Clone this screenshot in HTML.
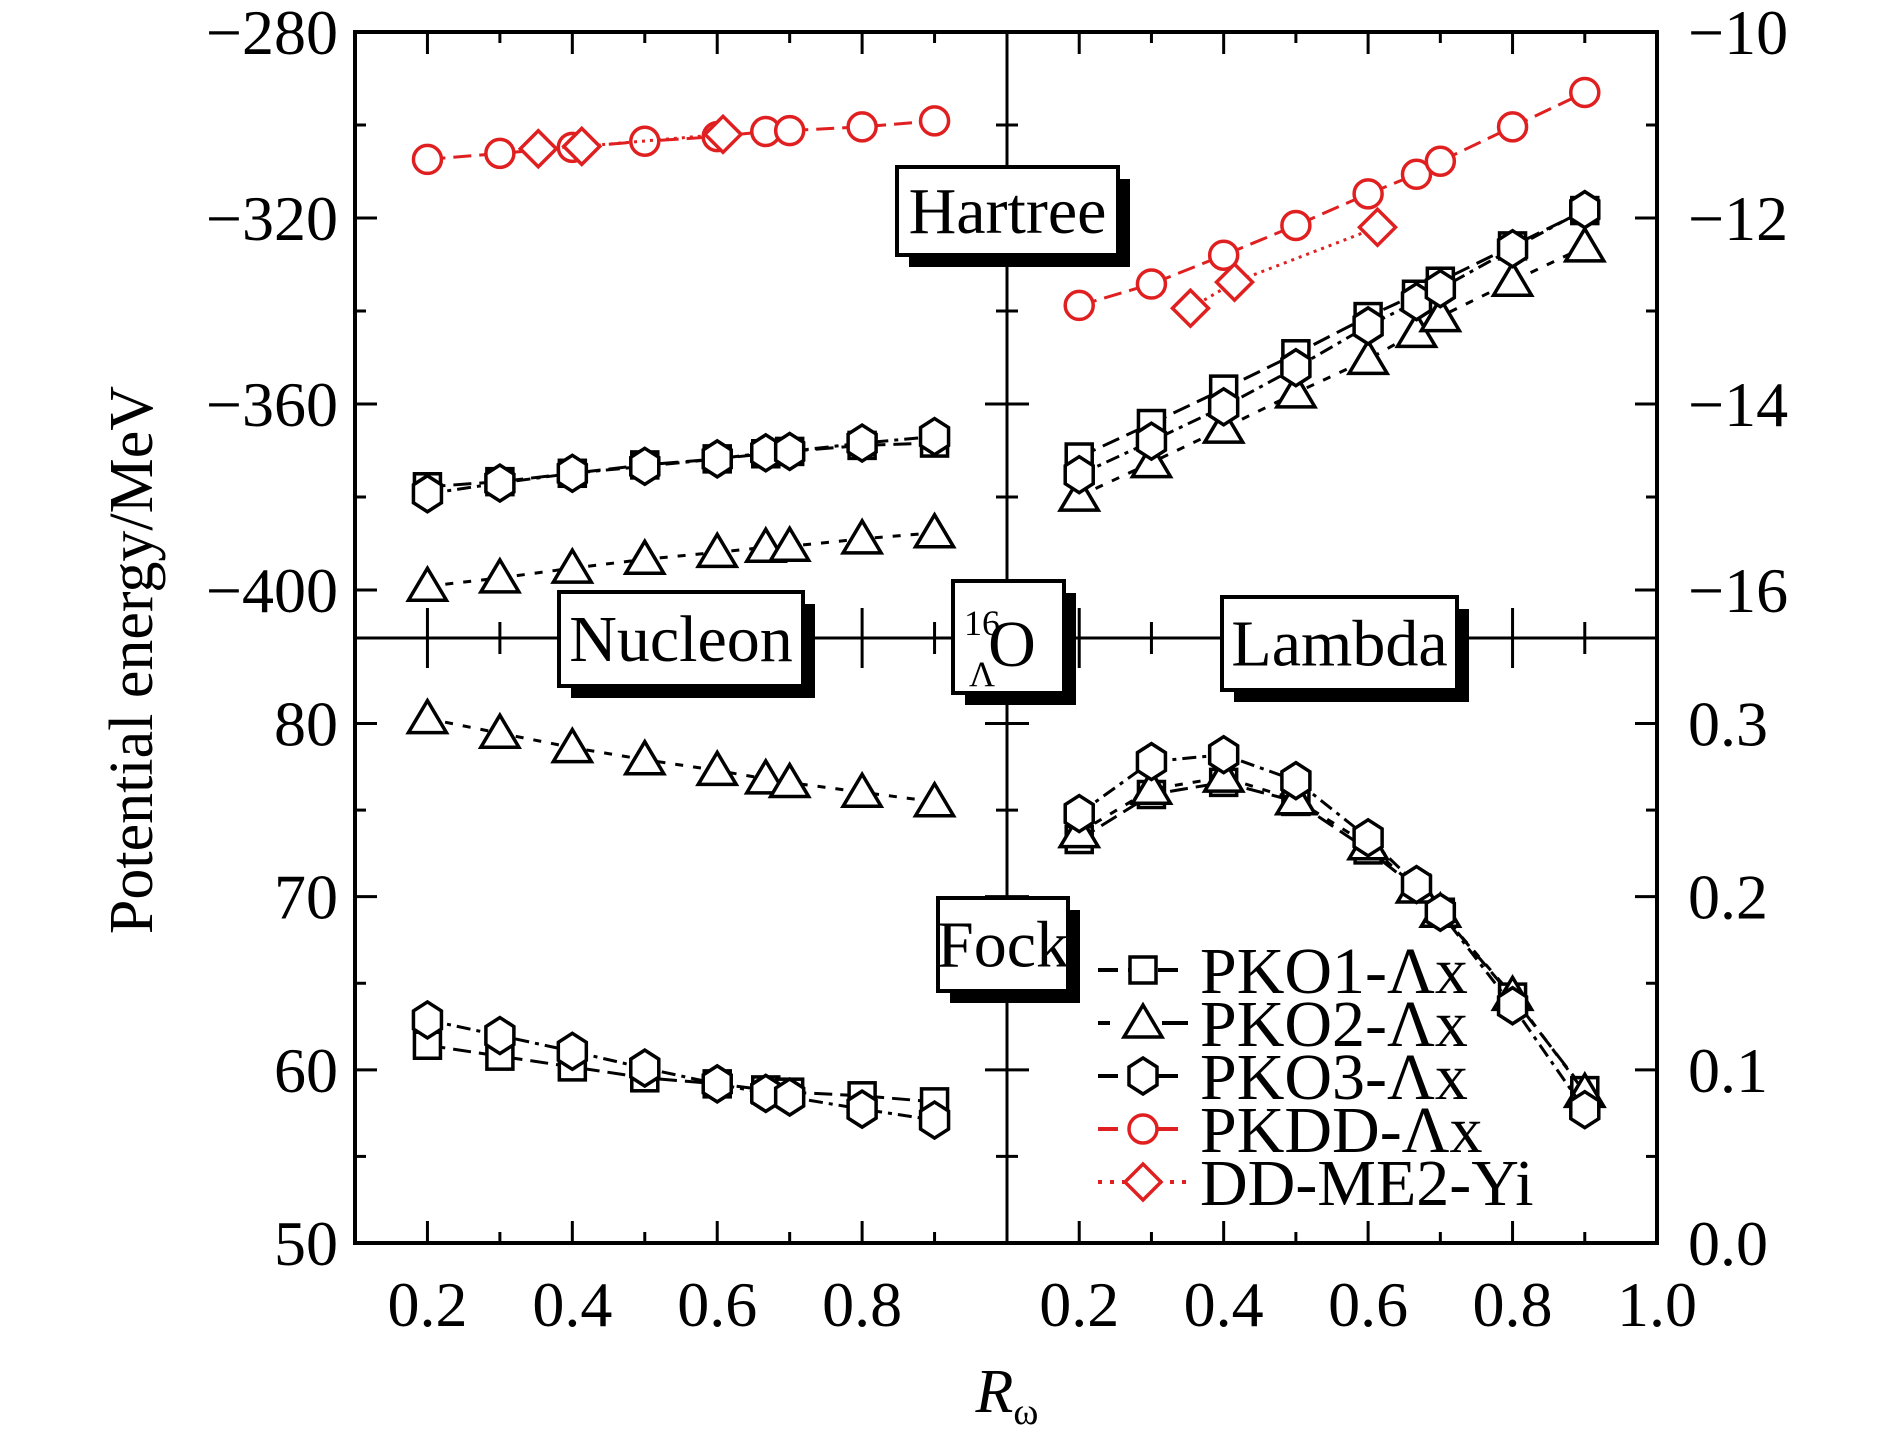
<!DOCTYPE html>
<html><head><meta charset="utf-8"><style>
html,body{margin:0;padding:0;background:#fff;}
svg{display:block;font-family:"Liberation Serif",serif;}
</style></head><body>
<svg id="chart" width="1890" height="1435" viewBox="0 0 1890 1435" xmlns="http://www.w3.org/2000/svg">
<g id="axes"></g>
<g id="series"></g>
<g id="labels"></g>
</svg>
<script>
// ---- data ----
const xPKO = [0.2,0.3,0.4,0.5,0.6,0.667,0.7,0.8,0.9];
const xDDME2 = [0.353,0.413,0.608];
const xDDME2R = [0.354,0.415,0.613];
// Nucleon Hartree (MeV)
const nHartreePKO1 = [-377.8,-376.7,-374.9,-373.1,-371.8,-370.7,-370.2,-368.9,-368.4];
const nHartreePKO2 = [-399.2,-397.4,-395.3,-393.4,-391.9,-390.8,-390.6,-389.0,-387.7];
const nHartreePKO3 = [-379.3,-377.0,-374.9,-373.4,-371.8,-370.5,-370.2,-368.4,-367.0];
const nHartreePKDD = [-307.4,-306.1,-304.8,-303.5,-302.5,-301.4,-301.2,-300.4,-299.1];
const nHartreeDDME2 = [-305.1,-304.6,-302.0];
// Lambda Hartree (MeV)
const lHartreePKO1 = [-14.57,-14.21,-13.84,-13.46,-13.06,-12.82,-12.68,-12.30,-11.92];
const lHartreePKO2 = [-14.99,-14.63,-14.26,-13.88,-13.52,-13.23,-13.06,-12.68,-12.31];
const lHartreePKO3 = [-14.76,-14.40,-14.03,-13.61,-13.16,-12.90,-12.76,-12.33,-11.91];
const lHartreePKDD = [-12.94,-12.71,-12.40,-12.08,-11.74,-11.53,-11.39,-11.02,-10.65];
const lHartreeDDME2 = [-12.97,-12.69,-12.10];
// Nucleon Fock (MeV)
const nFockPKO1 = [61.42,60.79,60.17,59.54,59.19,58.84,58.71,58.50,58.15];
const nFockPKO2 = [80.28,79.44,78.61,77.91,77.29,76.80,76.59,76.03,75.48];
const nFockPKO3 = [62.88,61.98,61.07,60.10,59.19,58.64,58.43,57.73,57.10];
// Lambda Fock (MeV)
const lFockPKO1 = [0.233,0.259,0.266,0.255,0.227,0.205,0.191,0.142,0.088];
const lFockPKO2 = [0.237,0.262,0.269,0.256,0.230,0.205,0.191,0.143,0.087];
const lFockPKO3 = [0.248,0.278,0.282,0.267,0.234,0.207,0.191,0.137,0.077];
// tick labels
const leftUpperTicks = [-280,-320,-360,-400];
const rightUpperTicks = [-10,-12,-14,-16];
const leftLowerTicks = [50,60,70,80];
const rightLowerTicks = [0.0,0.1,0.2,0.3];
const xTicksLeft = [0.2,0.4,0.6,0.8];
const xTicksRight = [0.2,0.4,0.6,0.8,1.0];

// ---- geometry ----
const NS="http://www.w3.org/2000/svg";
const X0=355, XM=1007, X1=1657, Y0=32, YM=638, Y1=1243;
const sxL = v => X0 + (v-0.1)/0.9*(XM-X0);
const sxR = v => XM + (v-0.1)/0.9*(X1-XM);
const syLU = v => 32 + (-280 - v)/120*(590-32);
const syRU = v => 32 + (-10 - v)/6*(590-32);
const syLL = v => 1243 - (v-50)/30*(1243-723.5);
const syRL = v => 1243 - v/0.3*(1243-723.5);

function mk(tag, attrs, parent){const e=document.createElementNS(NS,tag);for(const k in attrs)e.setAttribute(k,attrs[k]);parent.appendChild(e);return e;}
const axes=document.getElementById('axes'), series=document.getElementById('series'), labels=document.getElementById('labels');

const frame=mk('rect',{x:X0,y:Y0,width:X1-X0,height:Y1-Y0,fill:'none',stroke:'#000','stroke-width':4},axes);


const vmid=mk('line',{x1:XM,y1:Y0,x2:XM,y2:Y1,stroke:'#000','stroke-width':3},axes);


const hmid=mk('line',{x1:X0,y1:YM,x2:X1,y2:YM,stroke:'#000','stroke-width':3},axes);



function tick(x1,y1,x2,y2,name){const t=mk('line',{x1,y1,x2,y2,stroke:'#000','stroke-width':3},axes);

}
for(let v=-280; v>=-400; v-=20){const y=syLU(v);const L=(v%40===0)?22:11;
 tick(X0,y,X0+L,y,'y-tick-left');tick(XM-L,y,XM+L,y,'y-tick-center');}
for(let v=-10; v>=-16; v-=1){const y=syRU(v);const L=(v%2===0)?22:11;tick(X1-L,y,X1,y,'y-tick-right');}
for(let v=50; v<=80; v+=5){const y=syLL(v);const L=(v%10===0)?22:11;
 tick(X0,y,X0+L,y,'y-tick-left');tick(XM-L,y,XM+L,y,'y-tick-center');}
for(let k=0;k<=6;k++){const v=k*0.05;const y=syRL(v);const L=(k%2===0)?22:11;tick(X1-L,y,X1,y,'y-tick-right');}
for(let k=2;k<=9;k++){const v=k/10;const L=(k%2===0)?22:11;
 tick(sxL(v),Y1,sxL(v),Y1-L,'x-tick-left');tick(sxR(v),Y1,sxR(v),Y1-L,'x-tick-right');
 const M=(k%2===0)?30:16;
 tick(sxL(v),YM-M,sxL(v),YM+M,'x-tick-mid-left');tick(sxR(v),YM-M,sxR(v),YM+M,'x-tick-mid-right');
 tick(sxL(v),Y0,sxL(v),Y0+L,'x-tick-top-left');tick(sxR(v),Y0,sxR(v),Y0+L,'x-tick-top-right');}

function txt(s,x,y,size,anchor,name,extra){const t=mk('text',Object.assign({x,y,'font-size':size,'text-anchor':anchor||'middle',fill:'#000'},extra||{}),labels);t.textContent=s;

return t;}
const fmtNeg=v=>v<0?'\u2212'+Math.abs(v):String(v);
leftUpperTicks.forEach(v=>txt(fmtNeg(v),338,syLU(v)+22,64,'end','y-tick-label-left'));
leftLowerTicks.forEach(v=>txt(String(v),338,syLL(v)+22,64,'end','y-tick-label-left'));
rightUpperTicks.forEach(v=>txt(fmtNeg(v),1688,syRU(v)+22,64,'start','y-tick-label-right'));
rightLowerTicks.forEach(v=>txt(v.toFixed(1),1688,syRL(v)+22,64,'start','y-tick-label-right'));
xTicksLeft.forEach(v=>txt(v.toFixed(1),sxL(v),1326,64,'middle','x-tick-label'));
xTicksRight.forEach(v=>txt(v.toFixed(1),sxR(v),1326,64,'middle','x-tick-label'));
txt('Potential energy/MeV',0,0,62,'middle','y-axis-title',{transform:'translate(152,660) rotate(-90)'});
const rl=txt('',1007,1412,62,'middle','x-axis-title',{'font-style':'italic'});
rl.innerHTML='R<tspan font-size="38" dy="12" font-style="normal">\u03c9</tspan>';

function marker(type,x,y,color,parent){let e;const a={fill:'#fff',stroke:color,'stroke-width':3.5};
 if(type==='square')e=mk('rect',Object.assign({x:x-13,y:y-13,width:26,height:26},a),parent);
 else if(type==='triangle')e=mk('polygon',Object.assign({points:`${x},${y-18} ${x-19},${y+14} ${x+19},${y+14}`},a),parent);
 else if(type==='hexagon')e=mk('polygon',Object.assign({points:`${x},${y-18} ${x+14},${y-9} ${x+14},${y+9} ${x},${y+18} ${x-14},${y+9} ${x-14},${y-9}`},a),parent);
 else if(type==='circle')e=mk('circle',Object.assign({cx:x,cy:y,r:14},a),parent);
 else e=mk('polygon',Object.assign({points:`${x},${y-18} ${x+18},${y} ${x},${y+18} ${x-18},${y}`},a),parent);
 return e;}
function drawSeries(name,xs,ys,sx,sy,type,color,dash){
 const g=mk('g',{},series);
 
 
 const pts=xs.map((x,i)=>sx(x)+','+sy(ys[i])).join(' ');
 const ln=mk('polyline',{points:pts,fill:'none',stroke:color,'stroke-width':3,'stroke-dasharray':dash},g);
 
 
 xs.forEach((x,i)=>{const m=marker(type,sx(x),sy(ys[i]),color,g);
 
 });
}
const RED='#e02020';
drawSeries('nucleon-hartree-pko2',xPKO,nHartreePKO2,sxL,syLU,'triangle','#000','8,10');
drawSeries('nucleon-hartree-pko1',xPKO,nHartreePKO1,sxL,syLU,'square','#000','18,8');
drawSeries('nucleon-hartree-pko3',xPKO,nHartreePKO3,sxL,syLU,'hexagon','#000','14,6,4,6');
drawSeries('nucleon-hartree-pkdd',xPKO,nHartreePKDD,sxL,syLU,'circle',RED,'18,8');
drawSeries('nucleon-hartree-ddme2',xDDME2,nHartreeDDME2,sxL,syLU,'diamond',RED,'3,5');
drawSeries('lambda-hartree-pko2',xPKO,lHartreePKO2,sxR,syRU,'triangle','#000','8,10');
drawSeries('lambda-hartree-pko1',xPKO,lHartreePKO1,sxR,syRU,'square','#000','18,8');
drawSeries('lambda-hartree-pko3',xPKO,lHartreePKO3,sxR,syRU,'hexagon','#000','14,6,4,6');
drawSeries('lambda-hartree-ddme2',xDDME2R,lHartreeDDME2,sxR,syRU,'diamond',RED,'3,5');
drawSeries('lambda-hartree-pkdd',xPKO,lHartreePKDD,sxR,syRU,'circle',RED,'18,8');
drawSeries('nucleon-fock-pko2',xPKO,nFockPKO2,sxL,syLL,'triangle','#000','8,10');
drawSeries('nucleon-fock-pko1',xPKO,nFockPKO1,sxL,syLL,'square','#000','18,8');
drawSeries('nucleon-fock-pko3',xPKO,nFockPKO3,sxL,syLL,'hexagon','#000','14,6,4,6');
drawSeries('lambda-fock-pko1',xPKO,lFockPKO1,sxR,syRL,'square','#000','18,8');
drawSeries('lambda-fock-pko2',xPKO,lFockPKO2,sxR,syRL,'triangle','#000','8,10');
drawSeries('lambda-fock-pko3',xPKO,lFockPKO3,sxR,syRL,'hexagon','#000','14,6,4,6');

function box(name,x,y,w,h,label,size){
 const g=mk('g',{},labels);
 
 
 mk('rect',{x:x+12,y:y+12,width:w,height:h,fill:'#000'},g);
 mk('rect',{x:x,y:y,width:w,height:h,fill:'#fff',stroke:'#000','stroke-width':4},g);
 if(label){const t=mk('text',{x:x+w/2,y:y+h/2+22,'font-size':size,'text-anchor':'middle'},g);t.textContent=label;}
 return g;}
box('hartree-label',897,167,221,88,'Hartree',66);
box('nucleon-label',559,592,244,94,'Nucleon',66);
box('lambda-label',1222,597,235,93,'Lambda',66);
box('fock-label',938,898,130,93,'Fock',66);
const ob=box('nucleus-label',953,581,111,112,'',66);
const ot=mk('text',{x:1012,y:666,'font-size':66,'text-anchor':'middle'},ob);ot.textContent='O';
const os=mk('text',{x:982,y:635,'font-size':36,'text-anchor':'middle'},ob);os.textContent='16';
const ol=mk('text',{x:982,y:686,'font-size':36,'text-anchor':'middle'},ob);ol.textContent='\u039b';

const legendNames=['PKO1-\u039bx','PKO2-\u039bx','PKO3-\u039bx','PKDD-\u039bx','DD-ME2-Yi'];
const legendTypes=['square','triangle','hexagon','circle','diamond'];
const legendColors=['#000','#000','#000',RED,RED];
const lg=mk('g',{},labels);


legendNames.forEach((n,i)=>{const y=970+i*53;
 const e=mk('g',{},lg);
 
 
 mk('line',{x1:1098,y1:y,x2:1188,y2:y,stroke:legendColors[i],'stroke-width':4,'stroke-dasharray':i===4?'4,8':(i===1?'12,28,12':'20,10')},e);
 marker(legendTypes[i],1143,y,legendColors[i],e);
 const t=mk('text',{x:1200,y:y+23,'font-size':66},e);t.textContent=n;});
</script>
</body></html>
